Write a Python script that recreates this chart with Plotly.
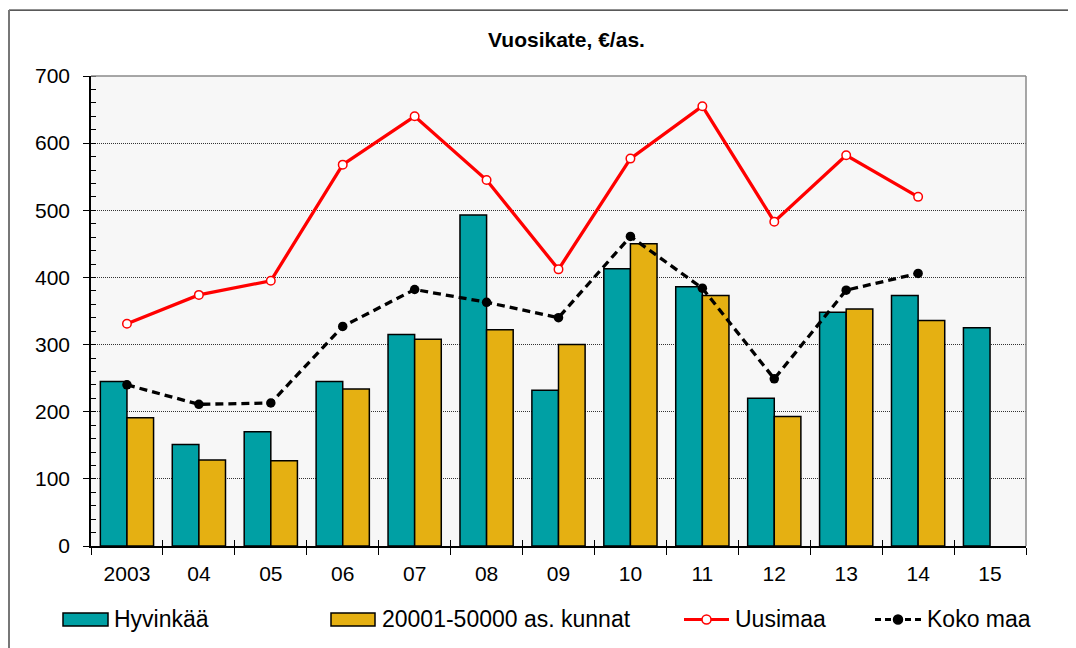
import plotly.graph_objects as go

categories = ["2003", "04", "05", "06", "07", "08", "09", "10", "11", "12", "13", "14", "15"]
hyvinkaa = [245, 151, 170, 245, 315, 493, 232, 413, 386, 220, 348, 373, 325]
kunnat = [191, 128, 127, 234, 308, 322, 300, 450, 373, 193, 353, 336, None]
uusimaa = [331, 374, 395, 568, 640, 545, 412, 577, 655, 483, 582, 520, None]
koko_maa = [240, 211, 213, 327, 382, 363, 340, 461, 384, 249, 381, 406, None]

names = ["Hyvinkää", "20001-50000 as. kunnat", "Uusimaa", "Koko maa"]
title_text = "Vuosikate, €/as."

TEAL = "#00A0A4"
GOLD = "#E5B012"
RED = "#FF0000"
FONT = "Liberation Sans, Arial, sans-serif"

OFF = 8  # page body margin
W, H = 1076 - OFF, 648 - OFF
# plot area in page pixels
L, R, T, B = 91, 1026, 76, 546.5


def px(x):
    return (x - L) / (R - L)


def py(y):
    return (B - y) / (B - T)


n = len(categories)

fig = go.Figure()
fig.add_bar(x=categories, y=hyvinkaa, name=names[0], marker=dict(color=TEAL, line=dict(color="black", width=1.5)), showlegend=False)
fig.add_bar(x=categories, y=kunnat, name=names[1], marker=dict(color=GOLD, line=dict(color="black", width=1.5)), showlegend=False)
fig.add_scatter(x=categories, y=uusimaa, name=names[2], mode="lines+markers",
                line=dict(color=RED, width=3.3),
                marker=dict(size=8.5, color="white", line=dict(color=RED, width=1.5)), showlegend=False)
fig.add_scatter(x=categories, y=koko_maa, name=names[3], mode="lines+markers",
                line=dict(color="black", width=3.3, dash="8px,5px"),
                marker=dict(size=9.5, color="black"), showlegend=False)
# empty helper trace so the overlay axis (inner half of boundary ticks) is drawn
fig.add_scatter(x=[None], y=[None], xaxis="x2", yaxis="y", mode="markers", showlegend=False, hoverinfo="skip")

shapes = []
# outer chart border (top and left visible)
shapes.append(dict(type="line", xref="paper", yref="paper", x0=px(9), x1=px(1090), y0=py(10), y1=py(10),
                   line=dict(color="#222", width=1.2)))
shapes.append(dict(type="line", xref="paper", yref="paper", x0=px(9), x1=px(9), y0=py(10), y1=py(660),
                   line=dict(color="#777", width=2)))
# plot frame top/right
shapes.append(dict(type="line", xref="paper", yref="paper", x0=0, x1=1, y0=1, y1=1,
                   line=dict(color="#8a8a8a", width=1.5), layer="above"))
shapes.append(dict(type="line", xref="paper", yref="paper", x0=1, x1=1, y0=0, y1=1,
                   line=dict(color="#8a8a8a", width=1.5), layer="above"))

annotations = []
ly = 620
# custom legend (page pixel positions)
legend_items = [
    ("bar", TEAL, 63, 108, 112),
    ("bar", GOLD, 331, 375, 380),
    ("line", RED, 684, 729, 733),
    ("dash", "black", 875, 921, 925),
]
for (kind, col, x0, x1, tx), nm in zip(legend_items, names):
    if kind == "bar":
        shapes.append(dict(type="rect", xref="paper", yref="paper", x0=px(x0), x1=px(x1), y0=py(ly - 6.5), y1=py(ly + 6.5),
                           fillcolor=col, line=dict(color="black", width=1.5)))
    else:
        dash = "solid" if kind == "line" else "6px,4px"
        shapes.append(dict(type="line", xref="paper", yref="paper", x0=px(x0), x1=px(x1), y0=py(ly), y1=py(ly),
                           line=dict(color=col, width=3, dash=dash)))
        cx = (x0 + x1) / 2
        fill = "white" if kind == "line" else "black"
        shapes.append(dict(type="circle", xref="paper", yref="paper", x0=px(cx - 4.5), x1=px(cx + 4.5),
                           y0=py(ly - 4.5), y1=py(ly + 4.5), fillcolor=fill, line=dict(color=col, width=1.5)))
    annotations.append(dict(text=nm, xref="paper", yref="paper", x=px(tx), y=py(ly), xanchor="left", yanchor="middle",
                            showarrow=False, font=dict(family=FONT, size=23, color="black")))

fig.update_layout(
    width=W, height=H,
    margin=dict(l=L - OFF, r=W - (R - OFF), t=T - OFF, b=H - (B - OFF), pad=0),
    paper_bgcolor="white",
    plot_bgcolor="#F7F7F7",
    barmode="group", bargap=0.26, bargroupgap=0,
    font=dict(family=FONT, size=21, color="black"),
    title=dict(text="<b>" + title_text + "</b>", x=(566.5 - OFF) / W, xref="container", xanchor="center",
               y=1 - (40 - OFF) / H, yref="container", yanchor="middle",
               font=dict(family=FONT, size=21, color="black")),
    showlegend=False,
    shapes=shapes,
    annotations=annotations,
    xaxis=dict(type="category", range=[-0.5, n - 0.5], autorange=False,
               tickson="boundaries", ticks="outside", ticklen=7, tickcolor="black", tickwidth=1,
               showline=True, linecolor="black", linewidth=1.5, showgrid=False, ticklabelstandoff=8,
               tickfont=dict(family=FONT, size=21, color="black")),
    xaxis2=dict(overlaying="x", anchor="y", side="bottom", range=[-0.5, n - 0.5], autorange=False,
                tickmode="array", tickvals=[i - 0.5 for i in range(n + 1)], ticks="inside", ticklen=6,
                tickcolor="black", tickwidth=1, showticklabels=False, showgrid=False, zeroline=False,
                showline=False),
    yaxis=dict(range=[0, 700], dtick=100, ticks="outside", ticklen=6, tickcolor="black", tickwidth=1,
               showline=True, linecolor="black", linewidth=1.5,
               showgrid=True, gridcolor="#333", gridwidth=1, griddash="1px,1px",
               minor=dict(dtick=20, ticks="inside", ticklen=5, tickcolor="black", showgrid=False),
               zeroline=False, ticklabelstandoff=9,
               tickfont=dict(family=FONT, size=21, color="black")),
)

fig.write_html("out.html")
